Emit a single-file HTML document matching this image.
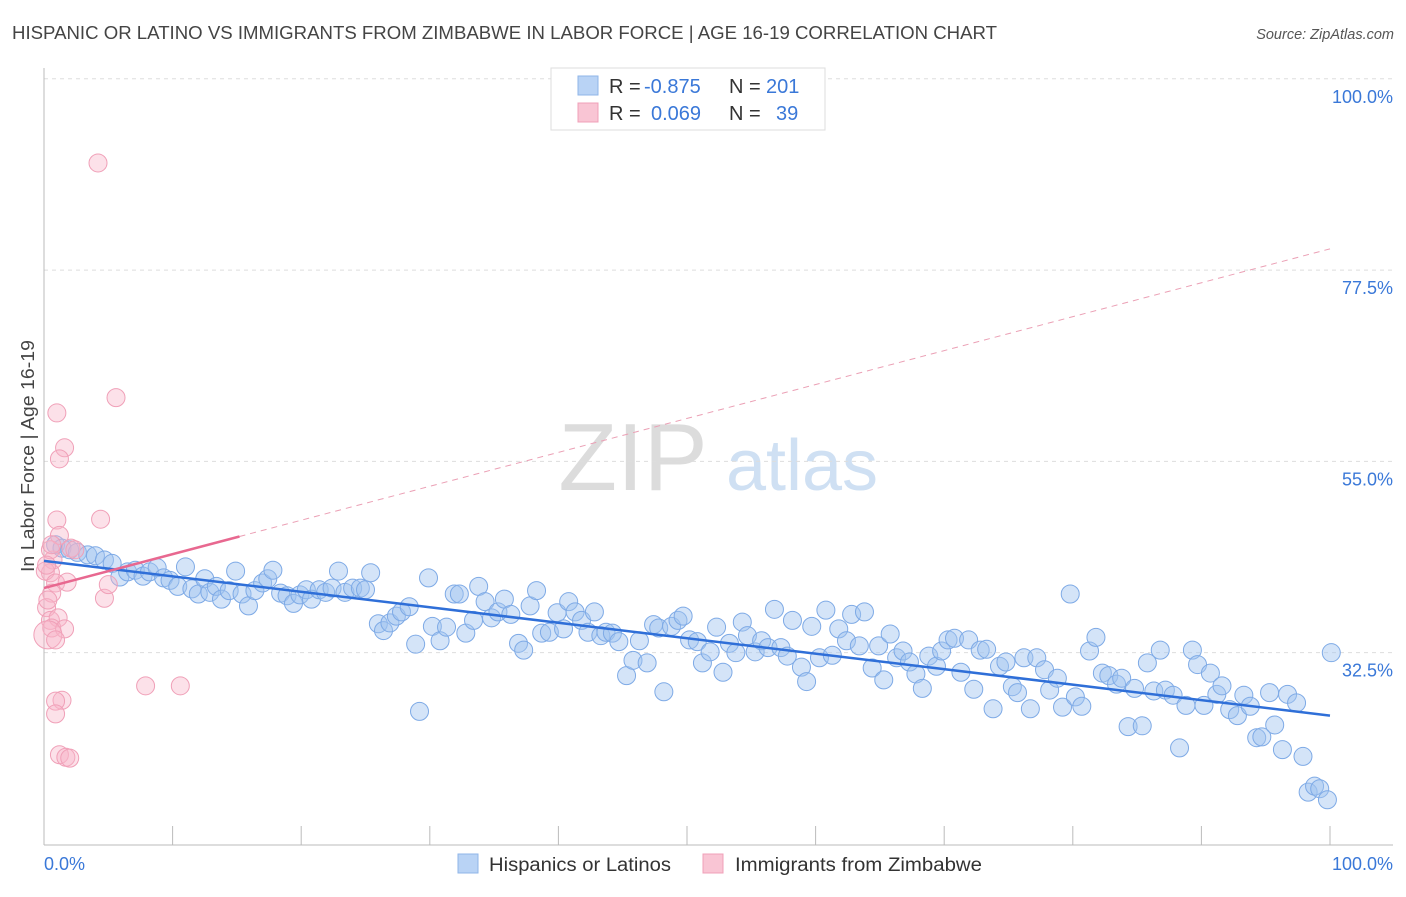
<!DOCTYPE html>
<html><head><meta charset="utf-8"><style>
body{margin:0;background:#fff;font-family:"Liberation Sans",sans-serif;}
svg text{font-family:"Liberation Sans",sans-serif;}
</style></head><body>
<svg id="chart" width="1406" height="892" xmlns="http://www.w3.org/2000/svg">
<text x="12" y="39" font-size="18" fill="#444" textLength="985" lengthAdjust="spacingAndGlyphs">HISPANIC OR LATINO VS IMMIGRANTS FROM ZIMBABWE IN LABOR FORCE | AGE 16-19 CORRELATION CHART</text>
<text x="1394" y="39" font-size="14.5" fill="#555" font-style="italic" text-anchor="end">Source: ZipAtlas.com</text>
<g>
<text x="633" y="490" font-size="96" fill="#dcdcdc" font-family="Liberation Serif" text-anchor="middle">ZIP</text>
<text x="802" y="490" font-size="72" fill="#cfe0f3" text-anchor="middle">atlas</text>
</g>
<g id="grid"></g>
<g id="axes"></g>
<g id="marks"></g>
<text x="34" y="456" font-size="18" fill="#444" text-anchor="middle" textLength="232" lengthAdjust="spacingAndGlyphs" transform="rotate(-90 34 456)">In Labor Force | Age 16-19</text>
<text x="44" y="870" font-size="18" fill="#3a78d8">0.0%</text>
<text x="1393" y="870" font-size="18" fill="#3a78d8" text-anchor="end">100.0%</text>
<g>
<rect x="551" y="68" width="274" height="62" fill="#fff" stroke="#ddd"/>
<rect x="578" y="76" width="20" height="19" fill="#b9d3f5" stroke="#8fb6e8"/>
<rect x="578" y="103" width="20" height="19" fill="#f9c5d4" stroke="#f0a0b8"/>
<text x="609" y="93" font-size="20" fill="#333">R = <tspan fill="#3a78d8" x="644">-0.875</tspan><tspan x="729">N = </tspan><tspan fill="#3a78d8" x="766">201</tspan></text>
<text x="609" y="120" font-size="20" fill="#333">R = <tspan fill="#3a78d8" x="651">0.069</tspan><tspan x="729">N = </tspan><tspan fill="#3a78d8" x="776">39</tspan></text>
</g>
<g>
<rect x="458" y="854" width="20" height="19" fill="#b9d3f5" stroke="#8fb6e8"/>
<text x="489" y="871" font-size="19" fill="#333" textLength="182" lengthAdjust="spacingAndGlyphs">Hispanics or Latinos</text>
<rect x="703" y="854" width="20" height="19" fill="#f9c5d4" stroke="#f0a0b8"/>
<text x="735" y="871" font-size="19" fill="#333" textLength="247" lengthAdjust="spacingAndGlyphs">Immigrants from Zimbabwe</text>
</g>
</svg>
<script>
const yTicks=[100,77.5,55,32.5];
const yTickLabels=["100.0%","77.5%","55.0%","32.5%"];
const xTicks=[0,10,20,30,40,50,60,70,80,90,100];
const blueX=[0.9,1.4,2.0,2.6,3.4,4.0,4.7,5.3,5.9,6.5,7.1,7.7,8.2,8.8,9.3,9.8,10.4,11.0,11.5,12.0,12.5,12.9,13.4,13.8,14.4,14.9,15.4,15.9,16.4,17.0,17.4,17.8,18.4,18.9,19.4,19.9,20.4,20.8,21.4,21.9,22.4,22.9,23.4,24.0,24.6,25.0,25.4,26.0,26.4,26.9,27.4,27.8,28.4,28.9,29.2,29.9,30.2,30.8,31.3,31.9,32.3,32.8,33.4,33.8,34.3,34.8,35.3,35.8,36.3,36.9,37.3,37.8,38.3,38.7,39.3,39.9,40.4,40.8,41.3,41.8,42.3,42.8,43.3,43.7,44.2,44.7,45.3,45.8,46.3,46.9,47.4,47.8,48.2,48.8,49.3,49.7,50.2,50.8,51.2,51.8,52.3,52.8,53.3,53.8,54.3,54.7,55.3,55.8,56.3,56.8,57.3,57.8,58.2,58.9,59.3,59.7,60.3,60.8,61.3,61.8,62.4,62.8,63.4,63.8,64.4,64.9,65.3,65.8,66.3,66.8,67.3,67.8,68.3,68.8,69.4,69.8,70.3,70.8,71.3,71.9,72.3,72.8,73.3,73.8,74.3,74.8,75.3,75.7,76.2,76.7,77.2,77.8,78.2,78.8,79.2,79.8,80.2,80.7,81.3,81.8,82.3,82.8,83.4,83.8,84.3,84.8,85.4,85.8,86.3,86.8,87.2,87.8,88.3,88.8,89.3,89.7,90.2,90.7,91.2,91.6,92.2,92.8,93.3,93.8,94.3,94.7,95.3,95.7,96.3,96.7,97.4,97.9,98.3,98.8,99.2,99.8,100.1];
const blueY=[45.2,44.8,44.6,44.3,44.0,43.9,43.4,43.0,41.4,42.0,42.2,41.5,42.0,42.5,41.3,41.0,40.3,42.6,40.0,39.4,41.2,39.6,40.3,38.8,39.8,42.1,39.4,38.0,39.8,40.7,41.2,42.2,39.5,39.2,38.3,39.3,39.9,38.8,39.9,39.6,40.1,42.1,39.6,40.1,40.1,39.9,41.9,35.9,35.1,36.0,36.8,37.3,37.9,33.5,25.6,41.3,35.6,33.9,35.5,39.4,39.4,34.8,36.3,40.3,38.5,36.6,37.3,38.8,37.0,33.6,32.8,38.0,39.8,34.8,34.9,37.2,35.3,38.5,37.3,36.3,34.9,37.3,34.5,34.9,34.8,33.8,29.8,31.6,33.9,31.3,35.8,35.4,27.9,35.6,36.3,36.8,34.0,33.8,31.3,32.6,35.5,30.2,33.6,32.5,36.1,34.5,32.6,33.9,33.1,37.6,33.1,32.1,36.3,30.8,29.1,35.6,31.9,37.5,32.2,35.3,33.9,37.0,33.3,37.3,30.7,33.3,29.3,34.7,31.9,32.7,31.4,30.0,28.3,32.1,30.9,32.7,34.0,34.2,30.2,34.0,28.2,32.8,32.9,25.9,30.9,31.4,28.5,27.8,31.9,25.9,31.9,30.5,28.1,29.5,26.1,39.4,27.3,26.2,32.7,34.3,30.1,29.8,28.8,29.5,23.8,28.3,23.9,31.3,28.0,32.8,28.1,27.5,21.3,26.3,32.8,31.1,26.3,30.1,27.6,28.6,25.8,25.1,27.5,26.2,22.5,22.6,27.8,24.0,21.1,27.6,26.6,20.3,16.1,16.8,16.5,15.2,32.5];
const pinkX=[4.2,1.0,5.6,1.6,1.2,1.0,4.4,1.2,2.1,0.7,0.5,0.1,0.9,1.8,0.6,4.7,5.0,0.2,0.5,1.1,0.6,1.6,0.3,1.4,0.9,0.9,7.9,10.6,1.2,1.7,2.0,0.5,0.2,0.6,2.4,0.3,0.9];
const pinkY=[90.1,60.7,62.5,56.6,55.3,48.1,48.2,46.3,44.8,43.4,41.9,42.1,40.7,40.8,39.5,38.9,40.5,37.8,36.3,36.6,35.4,35.3,34.6,26.9,26.8,25.3,28.6,28.6,20.5,20.2,20.1,44.6,42.8,45.2,44.6,38.7,34.0];
const blueTrend=[43.3,25.1];
const pinkTrend=[40.1,80.0];
const pinkSolidEnd=15.2;

const NS="http://www.w3.org/2000/svg";
const X0=44,X1=1330;
function xs(v){return X0+(X1-X0)*v/100;}
function ys(v){return 929-v*8.502;}
function mk(t,a,p){const e=document.createElementNS(NS,t);for(const k in a)e.setAttribute(k,a[k]);p.appendChild(e);return e;}
const grid=document.getElementById('grid'),axes=document.getElementById('axes'),marks=document.getElementById('marks');
yTicks.forEach((v,i)=>{
  const l=mk('line',{x1:X0,x2:1393,y1:ys(v),y2:ys(v),stroke:'#ddd','stroke-dasharray':'4,4'},grid);
  
  
  const t=mk('text',{x:1393,y:ys(v)+24,'font-size':18,fill:'#3a78d8','text-anchor':'end'},axes);
  t.textContent=yTickLabels[i];
  
  
});
const ax=mk('line',{x1:X0,x2:1393,y1:845,y2:845,stroke:'#bbb'},axes);


const ay=mk('line',{x1:X0,x2:X0,y1:68,y2:845,stroke:'#bbb'},axes);


xTicks.forEach(v=>{
  const t=mk('line',{x1:xs(v),x2:xs(v),y1:826,y2:845,stroke:'#bbb'},axes);
  
  
});
blueX.forEach((x,i)=>{
  const c=mk('circle',{cx:xs(x),cy:ys(blueY[i]),r:9,fill:'rgba(160,195,240,0.45)',stroke:'#7eaae6','stroke-width':1},marks);
  
  
});
pinkX.forEach((x,i)=>{
  const c=mk('circle',{cx:xs(x),cy:ys(pinkY[i]),r:(i===22?14:9),fill:'rgba(248,180,200,0.4)',stroke:'#f0a0b8','stroke-width':1},marks);
  
  
});
const bl=mk('line',{x1:xs(0),y1:ys(blueTrend[0]),x2:xs(100),y2:ys(blueTrend[1]),stroke:'#2f6fd8','stroke-width':2.5},marks);


const pe=pinkTrend[0]+(pinkTrend[1]-pinkTrend[0])*pinkSolidEnd/100;
const pd=mk('line',{x1:xs(pinkSolidEnd),y1:ys(pe),x2:xs(100),y2:ys(pinkTrend[1]),stroke:'#eba0b5','stroke-width':1,'stroke-dasharray':'6,5'},marks);


const ps=mk('line',{x1:xs(0),y1:ys(pinkTrend[0]),x2:xs(pinkSolidEnd),y2:ys(pe),stroke:'#e86890','stroke-width':2.5},marks);


</script>
</body></html>
